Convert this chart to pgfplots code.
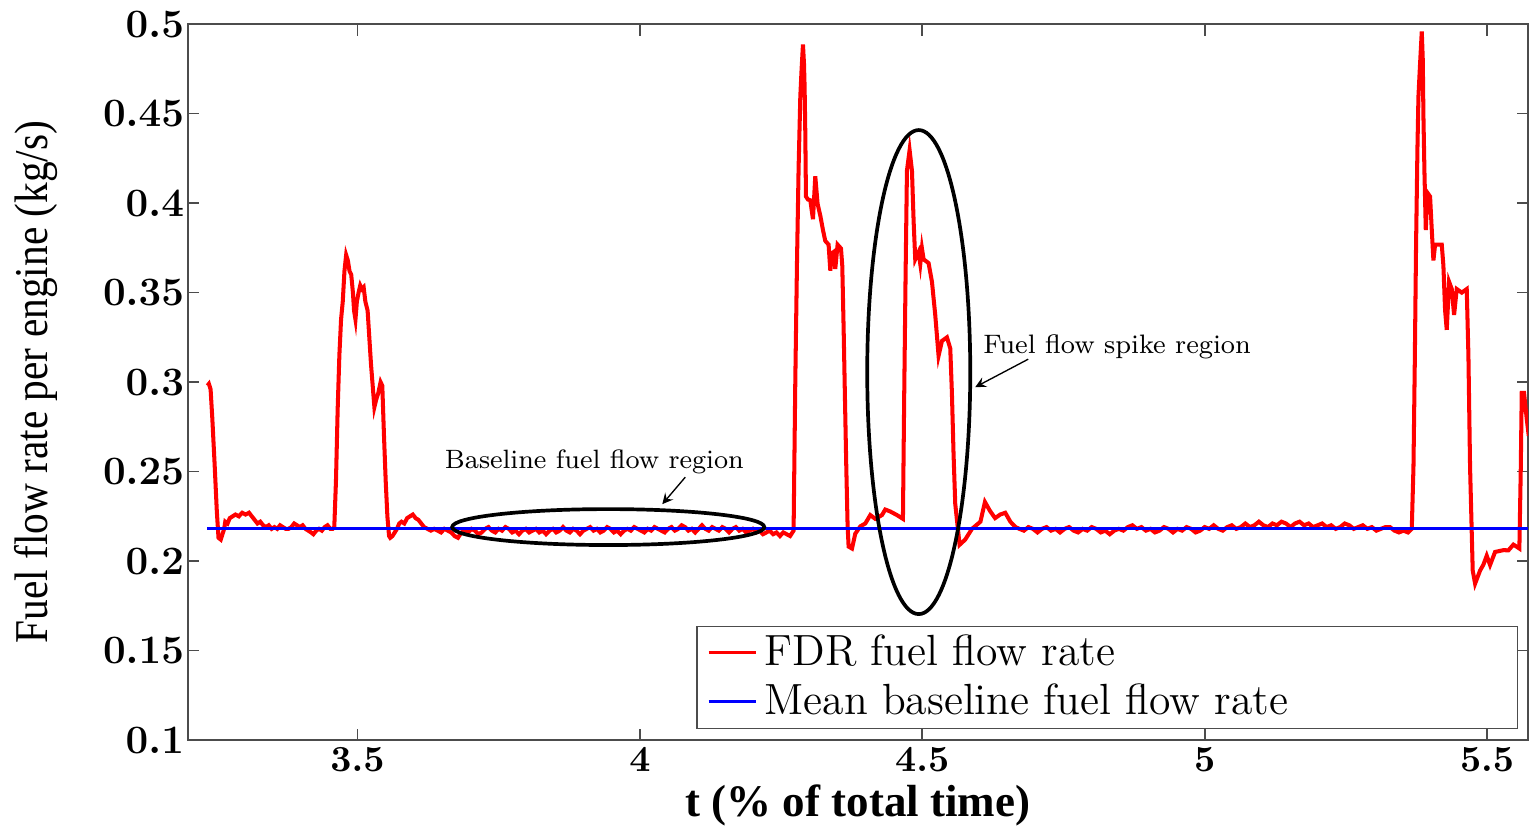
\documentclass[border=0pt]{standalone}
\usepackage{fontspec}
\usepackage{pgfplots}
\pgfplotsset{compat=1.18}
\newfontfamily\ylabfont[FakeStretch=0.88]{Liberation Serif}
\newfontfamily\xlabfont{Liberation Serif}

\begin{document}
\begin{tikzpicture}
\begin{axis}[
  scale only axis,
  width=14.02cm, height=7.49cm,
  xmin=3.2, xmax=5.5725,
  ymin=0.1, ymax=0.5,
  xtick={3.5,4,4.5,5,5.5},
  ytick={0.1,0.15,0.2,0.25,0.3,0.35,0.4,0.45,0.5},
  tick align=inside,
  major tick length=0.12cm,
  axis line style={gray!60!black, line width=0.6pt},
  tick style={gray!60!black, line width=0.5pt},
  yticklabel style={font=\fontsize{12}{14}\selectfont\boldmath, inner xsep=1pt},
  xticklabel style={font=\fontsize{11}{13}\selectfont\boldmath, inner ysep=2pt},
  xlabel={\xlabfont\bfseries\fontsize{13.4}{15}\selectfont t (\% of total time)},
  ylabel={\ylabfont\fontsize{14}{16}\selectfont Fuel flow rate per engine (kg/s)},
  xlabel style={at={(axis description cs:0.5,0)}, anchor=center, yshift=-0.68cm},
  ylabel style={at={(axis description cs:-0.1134,0.5)}, anchor=center},
  legend style={at={(0.9925,0.0155)}, anchor=south east, draw=gray!60!black,
    font=\fontsize{13}{15}\selectfont, cells={anchor=west}, inner ysep=0.5pt},
  legend image code/.code={\draw[#1, line width=0.9pt] (0cm,0cm) -- (0.5cm,0cm);},
]
\addplot[red, line width=1.2pt] coordinates {
(3.2345,0.298) (3.237,0.299) (3.240,0.296) (3.243,0.280) (3.247,0.255) (3.251,0.228)
(3.254,0.213) (3.258,0.212) (3.261,0.215) (3.264,0.218) (3.266,0.222) (3.270,0.221)
(3.274,0.224) (3.279,0.225) (3.284,0.226) (3.290,0.225) (3.296,0.227) (3.302,0.226)
(3.308,0.227) (3.313,0.225) (3.318,0.223) (3.323,0.221) (3.328,0.222) (3.333,0.220)
(3.338,0.219) (3.343,0.220) (3.348,0.218) (3.353,0.219) (3.358,0.218) (3.363,0.220)
(3.368,0.219) (3.373,0.218) (3.378,0.218) (3.383,0.219) (3.388,0.221) (3.393,0.220)
(3.398,0.219) (3.403,0.220) (3.408,0.218) (3.413,0.217) (3.418,0.216) (3.422,0.215)
(3.427,0.217) (3.432,0.218) (3.437,0.217) (3.442,0.219) (3.447,0.220) (3.452,0.218)
(3.456,0.218) (3.459,0.219)
(3.462,0.245) (3.465,0.285) (3.468,0.315) (3.471,0.335) (3.474,0.345) (3.477,0.362)
(3.480,0.371) (3.483,0.368) (3.486,0.362) (3.489,0.360) (3.492,0.350) (3.494,0.340)
(3.4965,0.335) (3.499,0.345) (3.502,0.350) (3.505,0.354) (3.508,0.352) (3.511,0.353)
(3.514,0.345) (3.518,0.340) (3.521,0.325) (3.524,0.310) (3.527,0.298) (3.530,0.286)
(3.533,0.290) (3.537,0.294) (3.541,0.300) (3.544,0.298) (3.547,0.270) (3.550,0.245)
(3.553,0.225) (3.556,0.214) (3.558,0.213) (3.562,0.214) (3.566,0.216) (3.570,0.218)
(3.574,0.221) (3.578,0.222) (3.583,0.221) (3.588,0.224) (3.593,0.225) (3.598,0.226)
(3.603,0.224) (3.608,0.223) (3.613,0.221) (3.618,0.219) (3.624,0.218)
(3.630,0.217) (3.636,0.218) (3.642,0.217) (3.648,0.216) (3.654,0.218) (3.660,0.217)
(3.666,0.216) (3.672,0.214) (3.678,0.213) (3.684,0.216) (3.690,0.217) (3.696,0.216)
(3.702,0.218) (3.708,0.217) (3.714,0.215) (3.720,0.216) (3.726,0.218) (3.732,0.219)
(3.738,0.217) (3.744,0.216) (3.750,0.218) (3.756,0.217) (3.762,0.219) (3.768,0.218)
(3.774,0.216) (3.780,0.217) (3.786,0.215) (3.792,0.217) (3.798,0.218) (3.804,0.216)
(3.810,0.217) (3.816,0.218) (3.822,0.216) (3.828,0.217) (3.834,0.215) (3.840,0.217)
(3.846,0.218) (3.852,0.216) (3.858,0.217) (3.864,0.219) (3.870,0.217) (3.876,0.216)
(3.882,0.218) (3.888,0.217) (3.894,0.215) (3.900,0.217) (3.906,0.218) (3.912,0.219)
(3.918,0.217) (3.924,0.218) (3.930,0.216) (3.936,0.217) (3.942,0.219) (3.948,0.218)
(3.954,0.216) (3.960,0.217) (3.966,0.215) (3.972,0.217) (3.978,0.218) (3.984,0.217)
(3.990,0.219) (3.996,0.218) (4.002,0.217) (4.008,0.216) (4.014,0.218) (4.020,0.217)
(4.026,0.219) (4.032,0.218) (4.038,0.217) (4.044,0.216) (4.050,0.218) (4.056,0.219)
(4.062,0.217) (4.068,0.218) (4.074,0.220) (4.080,0.219) (4.086,0.217) (4.092,0.218)
(4.098,0.216) (4.104,0.218) (4.110,0.220) (4.116,0.218) (4.122,0.217) (4.128,0.219)
(4.134,0.218) (4.140,0.217) (4.146,0.219) (4.152,0.218) (4.158,0.216) (4.164,0.218)
(4.170,0.219) (4.176,0.217) (4.182,0.218) (4.188,0.216) (4.194,0.217) (4.200,0.218)
(4.206,0.216) (4.212,0.217) (4.218,0.215) (4.224,0.216) (4.230,0.217) (4.236,0.215)
(4.242,0.216) (4.248,0.214) (4.254,0.216) (4.260,0.215) (4.266,0.214) (4.2722,0.217)
(4.2752,0.300) (4.2782,0.3665) (4.2811,0.420) (4.2841,0.4596) (4.2864,0.475) (4.2888,0.4886)
(4.2906,0.478) (4.2917,0.465) (4.2929,0.440) (4.2941,0.4037) (4.2977,0.402) (4.3018,0.4016)
(4.3065,0.391) (4.3106,0.415) (4.3147,0.3996) (4.3195,0.393) (4.3242,0.385) (4.3283,0.3789)
(4.3342,0.3768) (4.3372,0.3623) (4.3402,0.372) (4.3431,0.3727) (4.3460,0.3633) (4.3501,0.3768)
(4.3561,0.3747) (4.3584,0.365) (4.3608,0.330) (4.3632,0.290) (4.3655,0.2526) (4.3678,0.220)
(4.3696,0.2081) (4.3756,0.2070) (4.3814,0.2153) (4.3903,0.2194) (4.3991,0.221) (4.4080,0.2257)
(4.4168,0.2236) (4.4287,0.2257) (4.4345,0.2288) (4.4434,0.2277) (4.4552,0.2257) (4.4658,0.2236)
(4.4681,0.294) (4.4705,0.360) (4.4729,0.4182) (4.4776,0.4296) (4.4818,0.418) (4.4847,0.390)
(4.4876,0.3686) (4.4935,0.3727) (4.4965,0.366) (4.4994,0.3748) (4.5024,0.3686) (4.5112,0.3665)
(4.5172,0.356) (4.5230,0.3375) (4.5289,0.3147) (4.5349,0.323) (4.5437,0.325) (4.5496,0.3188)
(4.5525,0.294) (4.5554,0.260) (4.5584,0.232) (4.5661,0.2091)
(4.576,0.212) (4.588,0.218) (4.603,0.222) (4.611,0.233) (4.620,0.228) (4.629,0.224)
(4.638,0.226) (4.647,0.227) (4.656,0.222) (4.665,0.219)
(4.672,0.218) (4.680,0.217) (4.688,0.219) (4.696,0.218) (4.704,0.216) (4.712,0.218)
(4.720,0.219) (4.728,0.217) (4.736,0.218) (4.744,0.216) (4.752,0.218) (4.760,0.219)
(4.768,0.217) (4.776,0.216) (4.784,0.218) (4.792,0.217) (4.800,0.219) (4.808,0.218)
(4.816,0.216) (4.824,0.217) (4.832,0.215) (4.840,0.217) (4.848,0.218) (4.856,0.217)
(4.864,0.219) (4.872,0.220) (4.880,0.218) (4.888,0.219) (4.896,0.217) (4.904,0.218)
(4.912,0.216) (4.920,0.217) (4.928,0.219) (4.936,0.218) (4.944,0.216) (4.952,0.218)
(4.960,0.217) (4.968,0.219) (4.976,0.218) (4.984,0.216) (4.992,0.217) (5.000,0.219)
(5.008,0.218) (5.016,0.220) (5.024,0.218) (5.032,0.217) (5.040,0.219) (5.048,0.220)
(5.056,0.218) (5.064,0.219) (5.072,0.221) (5.080,0.219) (5.088,0.220) (5.096,0.222)
(5.104,0.220) (5.112,0.219) (5.120,0.221) (5.128,0.220) (5.136,0.222) (5.144,0.221)
(5.152,0.219) (5.160,0.221) (5.168,0.222) (5.176,0.220) (5.184,0.221) (5.192,0.219)
(5.200,0.220) (5.208,0.221) (5.216,0.219) (5.224,0.220) (5.232,0.218) (5.240,0.219)
(5.248,0.221) (5.256,0.220) (5.264,0.218) (5.272,0.219) (5.280,0.220) (5.288,0.218)
(5.296,0.219) (5.304,0.217) (5.312,0.218) (5.320,0.219) (5.328,0.219) (5.336,0.217)
(5.344,0.216) (5.352,0.217) (5.360,0.216) (5.3667,0.218)
(5.3697,0.2526) (5.3720,0.310) (5.3743,0.3768) (5.3767,0.430) (5.3785,0.4596) (5.3814,0.478)
(5.3844,0.4959) (5.3862,0.480) (5.3873,0.4493) (5.3891,0.418) (5.3915,0.385) (5.3944,0.4058)
(5.3991,0.4037) (5.4021,0.3851) (5.4050,0.368) (5.4080,0.3768) (5.4198,0.3768) (5.4227,0.365)
(5.4257,0.340) (5.4286,0.3292) (5.4327,0.3561) (5.4375,0.352) (5.4416,0.3375) (5.4463,0.352)
(5.4552,0.350) (5.4640,0.352) (5.4670,0.3147) (5.4699,0.2526) (5.4746,0.1947) (5.4788,0.1874)
(5.4876,0.1947) (5.4935,0.198) (5.4994,0.203) (5.5053,0.1978) (5.5142,0.2051) (5.5289,0.2061)
(5.5378,0.206) (5.5466,0.2092) (5.5525,0.208) (5.5572,0.207) (5.5596,0.250) (5.5614,0.294)
(5.5655,0.294) (5.5702,0.2795) (5.5738,0.270)
};
\addlegendentry{\makebox[7.7cm][l]{FDR fuel flow rate}}
\addplot[blue, line width=0.9pt] coordinates {(3.2345,0.2182) (5.5725,0.2182)};
\addlegendentry{\makebox[7.7cm][l]{Mean baseline fuel flow rate}}

\draw[black, line width=1.1pt] (axis cs:3.944,0.219) ellipse [x radius=1.633cm, y radius=0.188cm];
\draw[black, line width=1.1pt] (axis cs:4.4938,0.3056) ellipse [x radius=0.539cm, y radius=2.532cm];
\node[font=\fontsize{7.9}{10}\selectfont] at (axis cs:3.9195,0.2553) {Baseline fuel flow region};
\node[font=\fontsize{7.95}{10}\selectfont] at (axis cs:4.845,0.3195) {Fuel flow spike region};
\draw[-stealth, thin] (axis cs:4.0805,0.2469) -- (axis cs:4.0398,0.2318);
\draw[-stealth, thin] (axis cs:4.6876,0.3128) -- (axis cs:4.5938,0.2972);
\end{axis}
\path ([xshift=-1.967cm,yshift=-0.848cm]current axis.south west) rectangle ([yshift=0.23cm]current axis.north east);
\end{tikzpicture}
\end{document}
